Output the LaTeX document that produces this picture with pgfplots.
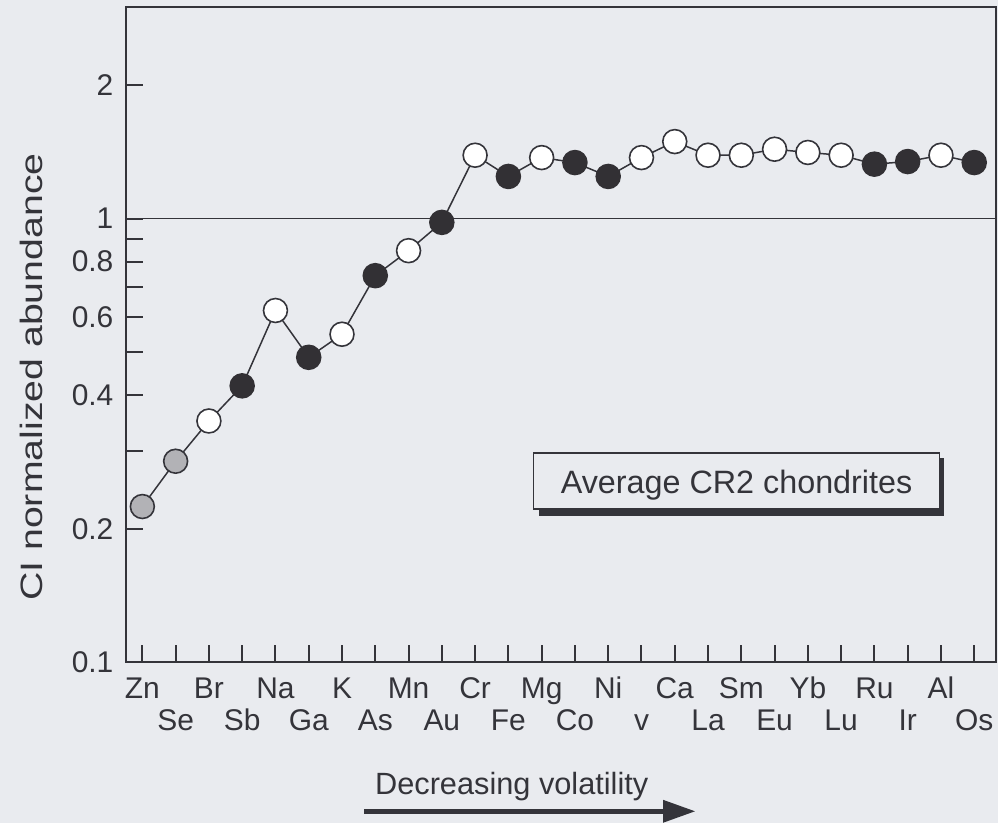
\documentclass[border=0pt]{standalone}
\usepackage{fontspec}
\setmainfont{Liberation Sans}
\usepackage{pgfplots}
\usepackage{pgfplotstable}
\pgfplotsset{compat=1.18}

\definecolor{paper}{RGB}{233,235,239}
\definecolor{ink}{RGB}{52,52,58}
\definecolor{dot}{RGB}{50,48,52}
\definecolor{stip}{RGB}{178,178,182}

% second row of element names
\newcommand\lo[1]{\raisebox{-16pt}{#1}}

% CI-normalized abundances; class: o = open, f = filled, g = grey
\pgfplotstableread{
x  y      c
0  0.2245 g
1  0.284  g
2  0.350  o
3  0.420  f
4  0.621  o
5  0.487  f
6  0.549  o
7  0.744  f
8  0.847  o
9  0.981  f
10 1.390  o
11 1.245  f
12 1.373  o
13 1.338  f
14 1.245  f
15 1.373  o
16 1.492  o
17 1.390  o
18 1.390  o
19 1.434  o
20 1.410  o
21 1.390  o
22 1.327  f
23 1.345  f
24 1.390  o
25 1.338  f
}\abund

\begin{document}
\begin{tikzpicture}
\fill[paper] (-63.35pt,-80.5pt) rectangle (436.65pt,332pt);
\begin{axis}[
  at={(0,0)}, anchor=south west,
  scale only axis, width=435.65pt, height=328.5pt,
  xmin=-0.48, xmax=25.64,
  ymode=log, ymin=0.1, ymax=3,
  axis line style={line width=1pt, color=ink},
  tick align=inside, xtick pos=bottom, ytick pos=left,
  major tick length=8.5pt,
  tick style={line width=1pt, color=ink},
  yminorticks=false, xminorticks=false,
  xtick={0,...,25},
  xticklabels={Zn,\lo{Se},Br,\lo{Sb},Na,\lo{Ga},K,\lo{As},Mn,\lo{Au},Cr,\lo{Fe},Mg,\lo{Co},Ni,\lo{v},Ca,\lo{La},Sm,\lo{Eu},Yb,\lo{Lu},Ru,\lo{Ir},Al,\lo{Os}},
  ytick={0.1,0.2,0.3,0.4,0.5,0.6,0.7,0.8,0.9,1,2},
  yticklabels={0.1,0.2,,0.4,,0.6,,0.8,,1,2},
  tick label style={font=\fontsize{15}{17}\selectfont, text=ink},
  xticklabel style={anchor=base, yshift=-18pt},
  yticklabel style={anchor=east, xshift=-3pt},
]
% chondritic reference level
\draw[ink, line width=0.8pt] ({rel axis cs:0,0}|-{axis cs:0,1}) -- ({rel axis cs:1,0}|-{axis cs:0,1});
\addplot[ink, line width=0.75pt, no markers] table[x=x, y=y] {\abund};
\addplot[
  scatter, only marks, scatter src=explicit symbolic,
  scatter/classes={
    o={mark=*, fill=white, draw=ink},
    f={mark=*, fill=dot, draw=dot},
    g={mark=*, fill=stip, draw=ink}},
  mark size=6pt, mark options={line width=0.8pt},
] table[x=x, y=y, meta=c] {\abund};
\end{axis}

% y axis title
\node[rotate=90, anchor=base, xscale=1.27, font=\fontsize{15.5}{18}\selectfont, text=ink] at (-41.85pt,143pt) {CI normalized abundance};

% annotation box with drop shadow
\fill[ink] (206.65pt,73.5pt) rectangle (410pt,102.5pt);
\filldraw[fill=paper, draw=ink, line width=0.8pt] (204.15pt,77pt) rectangle (407.5pt,105pt);
\node[anchor=base, font=\fontsize{16.2}{19}\selectfont, text=ink] at (305.85pt,84.5pt) {Average CR2 chondrites};

% volatility arrow
\node[anchor=base, font=\fontsize{15.4}{18}\selectfont, text=ink] at (193.15pt,-66.35pt) {Decreasing volatility};
\draw[ink, line width=2.5pt] (119.15pt,-74.65pt) -- (271pt,-74.65pt);
\fill[ink] (269pt,-68.9pt) -- (285pt,-74.65pt) -- (269pt,-80.4pt) -- cycle;
\end{tikzpicture}
\end{document}
